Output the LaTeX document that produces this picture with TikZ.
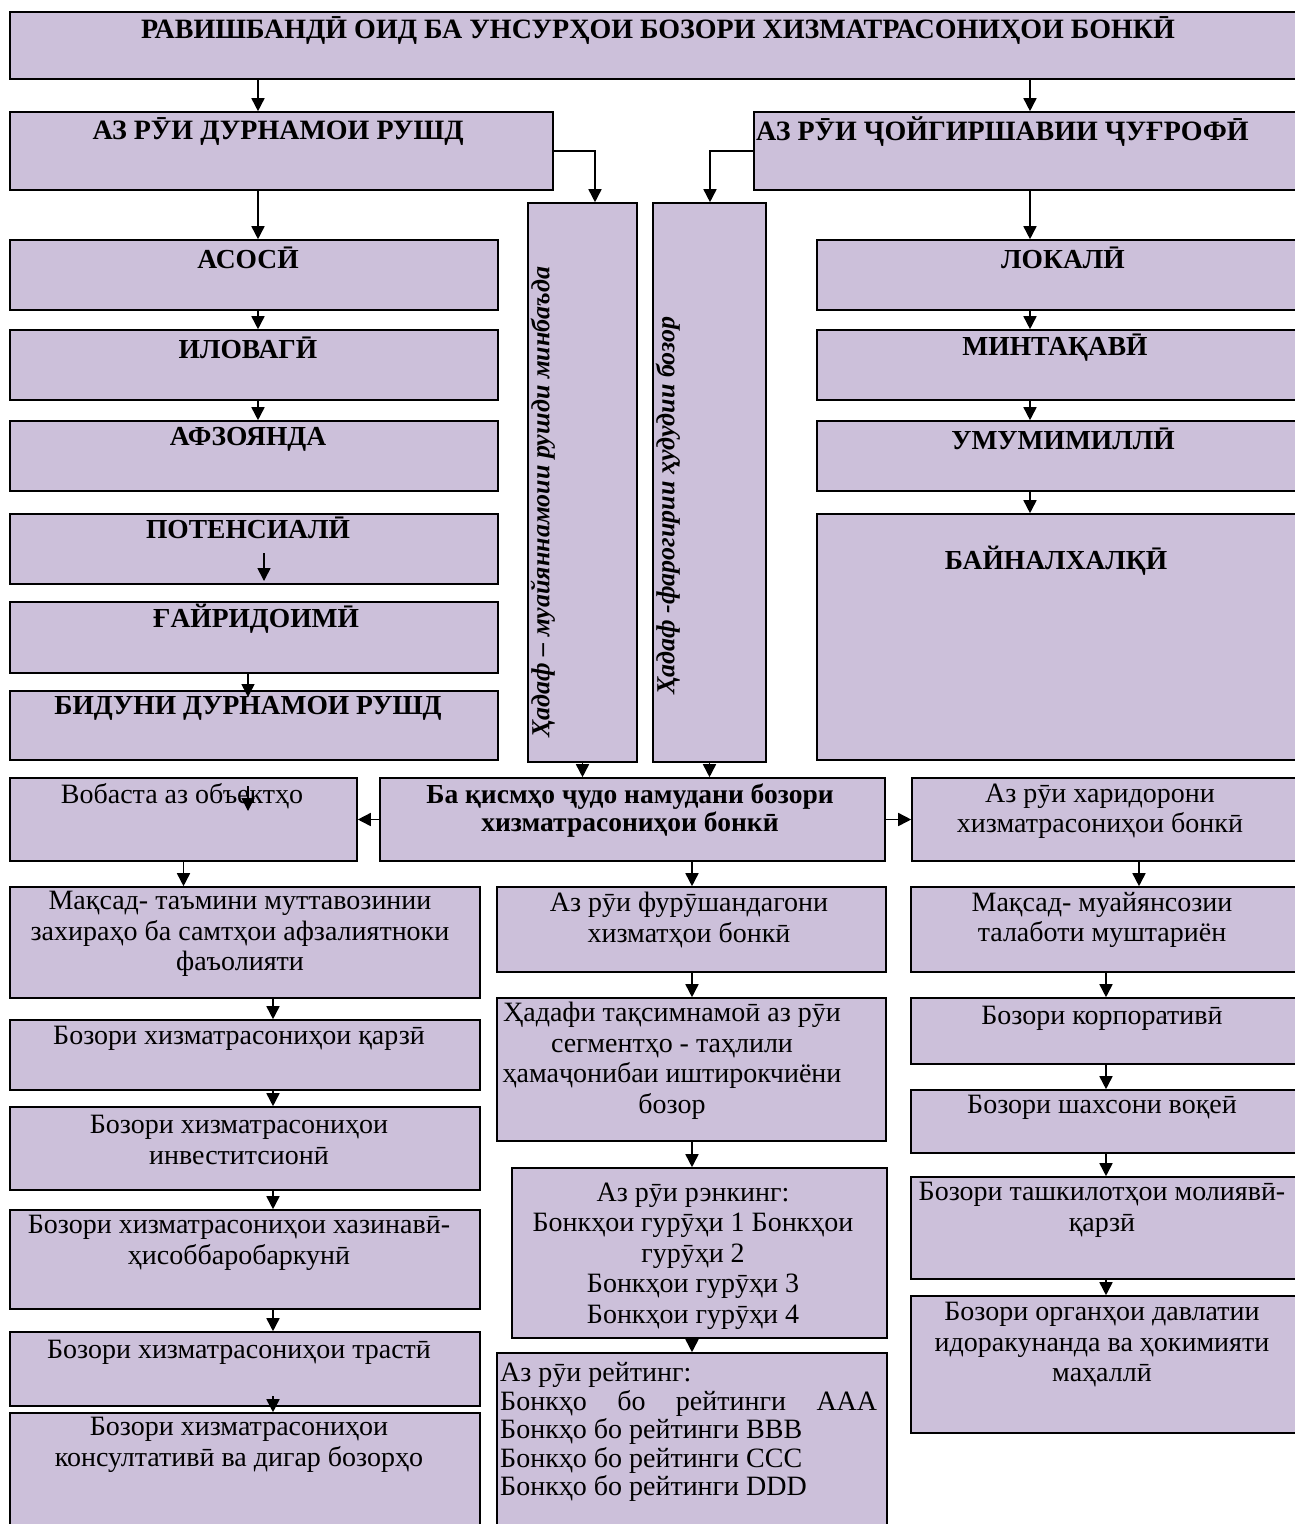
\documentclass[tikz,border=0pt]{standalone}
\usepackage{fontspec}
\setmainfont{Liberation Serif}
\usetikzlibrary{arrows.meta,fit}
\definecolor{lav}{RGB}{204,192,218}
\tikzset{
  bx/.style={draw=black, fill=lav, line width=1.6pt, inner sep=0pt, rectangle},
  hd/.style={font=\fontsize{27.5}{28}\selectfont\bfseries, inner sep=0pt, align=center, anchor=center},
  hdbig/.style={hd, font=\fontsize{28}{28}\selectfont\bfseries},
  tx/.style={font=\fontsize{28}{30.5}\selectfont, inner sep=0pt, align=center, anchor=center},
  vt/.style={font=\fontsize{26}{28}\selectfont\bfseries\itshape, inner sep=0pt, rotate=90, anchor=mid west},
  ar/.style={line width=1.6pt, -{Triangle[width=13pt,length=13pt]}},
}
\begin{document}
\begin{tikzpicture}[x=1pt,y=-1pt]
\useasboundingbox (0,0) rectangle (1294,1524);
% x guides for connectors
\coordinate (xa) at (258,0);
\coordinate (xb) at (1030,0);
\coordinate (xc) at (595,0);
\coordinate (xd) at (710,0);
\coordinate (xf) at (248,0);
\coordinate (xh) at (692,0);
\coordinate (xi) at (1139,0);
\coordinate (xj) at (273,0);
\coordinate (xk) at (1106,0);
\coordinate (potA) at (264,553);
\coordinate (potB) at (264,581);
\coordinate (bidtip) at (248,697);
\coordinate (vobA) at (248,786);
\coordinate (vobB) at (248,811);
\coordinate (trA) at (273,1396);

% top
\node[bx, fit={(10,12)(1300,79)}] (top) {};
\node[hdbig] (topt) at (658,31) {РАВИШБАНДӢ ОИД БА УНСУРҲОИ БОЗОРИ ХИЗМАТРАСОНИҲОИ БОНКӢ};
\node[bx, fit={(10,112)(553,190)}] (lb) {};
\node[hdbig] (lbt) at (278,132) {АЗ РӮИ ДУРНАМОИ РУШД};
\node[bx, fit={(754,112)(1300,190)}] (rb) {};
\node[hdbig, anchor=west] (rbt) at (756,132) {АЗ РӮИ ҶОЙГИРШАВИИ ҶУҒРОФӢ};

% vertical boxes
\node[bx, fit={(528,203)(637,762)}] (v1) {};
\node[vt] (v1t) at (547,738) {Ҳадаф – муайяннамоии рушди минбаъда};
\node[bx, fit={(653,203)(766,762)}] (v2) {};
\node[vt] (v2t) at (672,695) {Ҳадаф -фарогирии ҳудудии бозор};

% left column
\node[bx, fit={(10,240)(498,310)}] (asos) {};
\node[hd] (asost) at (248,258) {АСОСӢ};
\node[bx, fit={(10,330)(498,400)}] (ilov) {};
\node[hd] (ilovt) at (248,348) {ИЛОВАГӢ};
\node[bx, fit={(10,421)(498,491)}] (afz) {};
\node[hd] (afzt) at (248,439) {АФЗОЯНДА};
\node[bx, fit={(10,514)(498,584)}] (pot) {};
\node[hd] (pott) at (248,528) {ПОТЕНСИАЛӢ};
\node[bx, fit={(10,602)(498,673)}] (gair) {};
\node[hd] (gairt) at (256,619) {ҒАЙРИДОИМӢ};
\node[bx, fit={(10,691)(498,760)}] (bid) {};
\node[hd] (bidt) at (248,708) {БИДУНИ ДУРНАМОИ РУШД};

% right column
\node[bx, fit={(817,240)(1300,310)}] (lok) {};
\node[hd] (lokt) at (1063,258) {ЛОКАЛӢ};
\node[bx, fit={(817,330)(1300,400)}] (mint) {};
\node[hd] (mintt) at (1055,348) {МИНТАҚАВӢ};
\node[bx, fit={(817,421)(1300,491)}] (umum) {};
\node[hd] (umumt) at (1063,439) {УМУМИМИЛЛӢ};
\node[bx, fit={(817,514)(1300,760)}] (bayn) {};
\node[hd] (baynt) at (1056,561) {БАЙНАЛХАЛҚӢ};

% middle row
\node[bx, fit={(10,778)(357,861)}] (vob) {};
\node[tx] (vobt) at (182,796) {Вобаста аз объектҳо};
\node[bx, fit={(380,778)(885,861)}] (mid) {};
\node[hd] (midt) at (630,811) {Ба қисмҳо ҷудо намудани бозори\\хизматрасониҳои бонкӣ};
\node[bx, fit={(912,778)(1300,861)}] (har) {};
\node[tx] (hart) at (1100,811) {Аз рӯи харидорони\\хизматрасониҳои бонкӣ};

% lower left
\node[bx, fit={(10,887)(480,998)}] (mq1) {};
\node[tx] (mq1t) at (240,934) {Мақсад- таъмини муттавозинии\\захираҳо ба самтҳои афзалиятноки\\фаъолияти};
\node[bx, fit={(10,1020)(480,1090)}] (qarz) {};
\node[tx] (qarzt) at (239,1038) {Бозори хизматрасониҳои қарзӣ};
\node[bx, fit={(10,1107)(480,1190)}] (inv) {};
\node[tx] (invt) at (239,1140) {Бозори хизматрасониҳои\\инвеститсионӣ};
\node[bx, fit={(10,1210)(480,1309)}] (xaz) {};
\node[tx] (xazt) at (239,1243) {Бозори хизматрасониҳои хазинавӣ-\\ҳисоббаробаркунӣ};
\node[bx, fit={(10,1332)(480,1406)}] (trast) {};
\node[tx] (trastt) at (239,1352) {Бозори хизматрасониҳои трастӣ};
\node[bx, fit={(10,1413)(480,1540)}] (kons) {};
\node[tx] (konst) at (239,1445) {Бозори хизматрасониҳои\\консултативӣ ва дигар бозорҳо};

% lower middle
\node[bx, fit={(497,887)(886,972)}] (fur) {};
\node[tx] (furt) at (689,920) {Аз рӯи фурӯшандагони\\хизматҳои бонкӣ};
\node[bx, fit={(497,998)(886,1141)}] (hadaf) {};
\node[tx] (hadaft) at (672,1061) {Ҳадафи тақсимнамоӣ аз рӯи\\сегментҳо - таҳлили\\ҳамаҷонибаи иштирокчиёни\\бозор};
\node[bx, fit={(512,1168)(887,1338)}] (renk) {};
\begin{scope}
\clip (512,1168) rectangle (887,1329);
\node[tx] (renkt) at (693,1256) {Аз рӯи рэнкинг:\\Бонкҳои гурӯҳи 1 Бонкҳои\\гурӯҳи 2\\Бонкҳои гурӯҳи 3\\Бонкҳои гурӯҳи 4};
\end{scope}
\node[bx, fit={(497,1353)(887,1540)}] (reyt) {};
\node[tx, align=left, anchor=west, font=\fontsize{28}{28.5}\selectfont] (reytt) at (500,1432) {Аз рӯи рейтинг:\\\makebox[377pt][s]{Бонкҳо бо рейтинги AAA}\\Бонкҳо бо рейтинги BBB\\Бонкҳо бо рейтинги CCC\\Бонкҳо бо рейтинги DDD};

% lower right
\node[bx, fit={(911,887)(1300,972)}] (mq2) {};
\node[tx] (mq2t) at (1102,920) {Мақсад- муайянсозии\\талаботи муштариён};
\node[bx, fit={(911,998)(1300,1064)}] (korp) {};
\node[tx] (korpt) at (1102,1018) {Бозори корпоративӣ};
\node[bx, fit={(911,1090)(1300,1153)}] (shax) {};
\node[tx] (shaxt) at (1102,1107) {Бозори шахсони воқеӣ};
\node[bx, fit={(911,1177)(1300,1279)}] (mol) {};
\node[tx] (molt) at (1102,1210) {Бозори ташкилотҳои молиявӣ-\\қарзӣ};
\node[bx, fit={(911,1296)(1300,1433)}] (org) {};
\node[tx] (orgt) at (1102,1345) {Бозори органҳои давлатии\\идоракунанда ва ҳокимияти\\маҳаллӣ};

% connectors
\draw[ar] (top.south -| xa) -- (lb.north -| xa);
\draw[ar] (top.south -| xb) -- (rb.north -| xb);
\draw[ar] (lb.east) -| (v1.north -| xc);
\draw[ar] (rb.west) -| (v2.north -| xd);
\draw[ar] (lb.south -| xa) -- (asos.north -| xa);
\draw[ar] (asos.south -| xa) -- (ilov.north -| xa);
\draw[ar] (ilov.south -| xa) -- (afz.north -| xa);
\draw[ar] (potA) -- (potB);
\draw[ar] (gair.south -| xf) -- (bidtip);
\draw[ar] (rb.south -| xb) -- (lok.north -| xb);
\draw[ar] (lok.south -| xb) -- (mint.north -| xb);
\draw[ar] (mint.south -| xb) -- (umum.north -| xb);
\draw[ar] (umum.south -| xb) -- (bayn.north -| xb);
\draw[ar] (v1.south) -- (v1.south |- mid.north);
\draw[ar] (v2.south) -- (v2.south |- mid.north);
\draw[ar] (mid.west) -- (vob.east);
\draw[ar] (mid.east) -- (har.west);
\draw[ar] (vobA) -- (vobB);
\draw[ar] (vob.south) -- (vob.south |- mq1.north);
\draw[ar] (mid.south -| xh) -- (fur.north -| xh);
\draw[ar] (har.south -| xi) -- (mq2.north -| xi);
\draw[ar] (mq1.south -| xj) -- (qarz.north -| xj);
\draw[ar] (qarz.south -| xj) -- (inv.north -| xj);
\draw[ar] (inv.south -| xj) -- (xaz.north -| xj);
\draw[ar] (xaz.south -| xj) -- (trast.north -| xj);
\draw[ar] (trA) -- (kons.north -| xj);
\draw[ar] (fur.south -| xh) -- (hadaf.north -| xh);
\draw[ar] (hadaf.south -| xh) -- (renk.north -| xh);
\draw[ar] (renk.south -| xh) -- (reyt.north -| xh);
\draw[ar] (mq2.south -| xk) -- (korp.north -| xk);
\draw[ar] (korp.south -| xk) -- (shax.north -| xk);
\draw[ar] (shax.south -| xk) -- (mol.north -| xk);
\draw[ar] (mol.south -| xk) -- (org.north -| xk);
\end{tikzpicture}
\end{document}
